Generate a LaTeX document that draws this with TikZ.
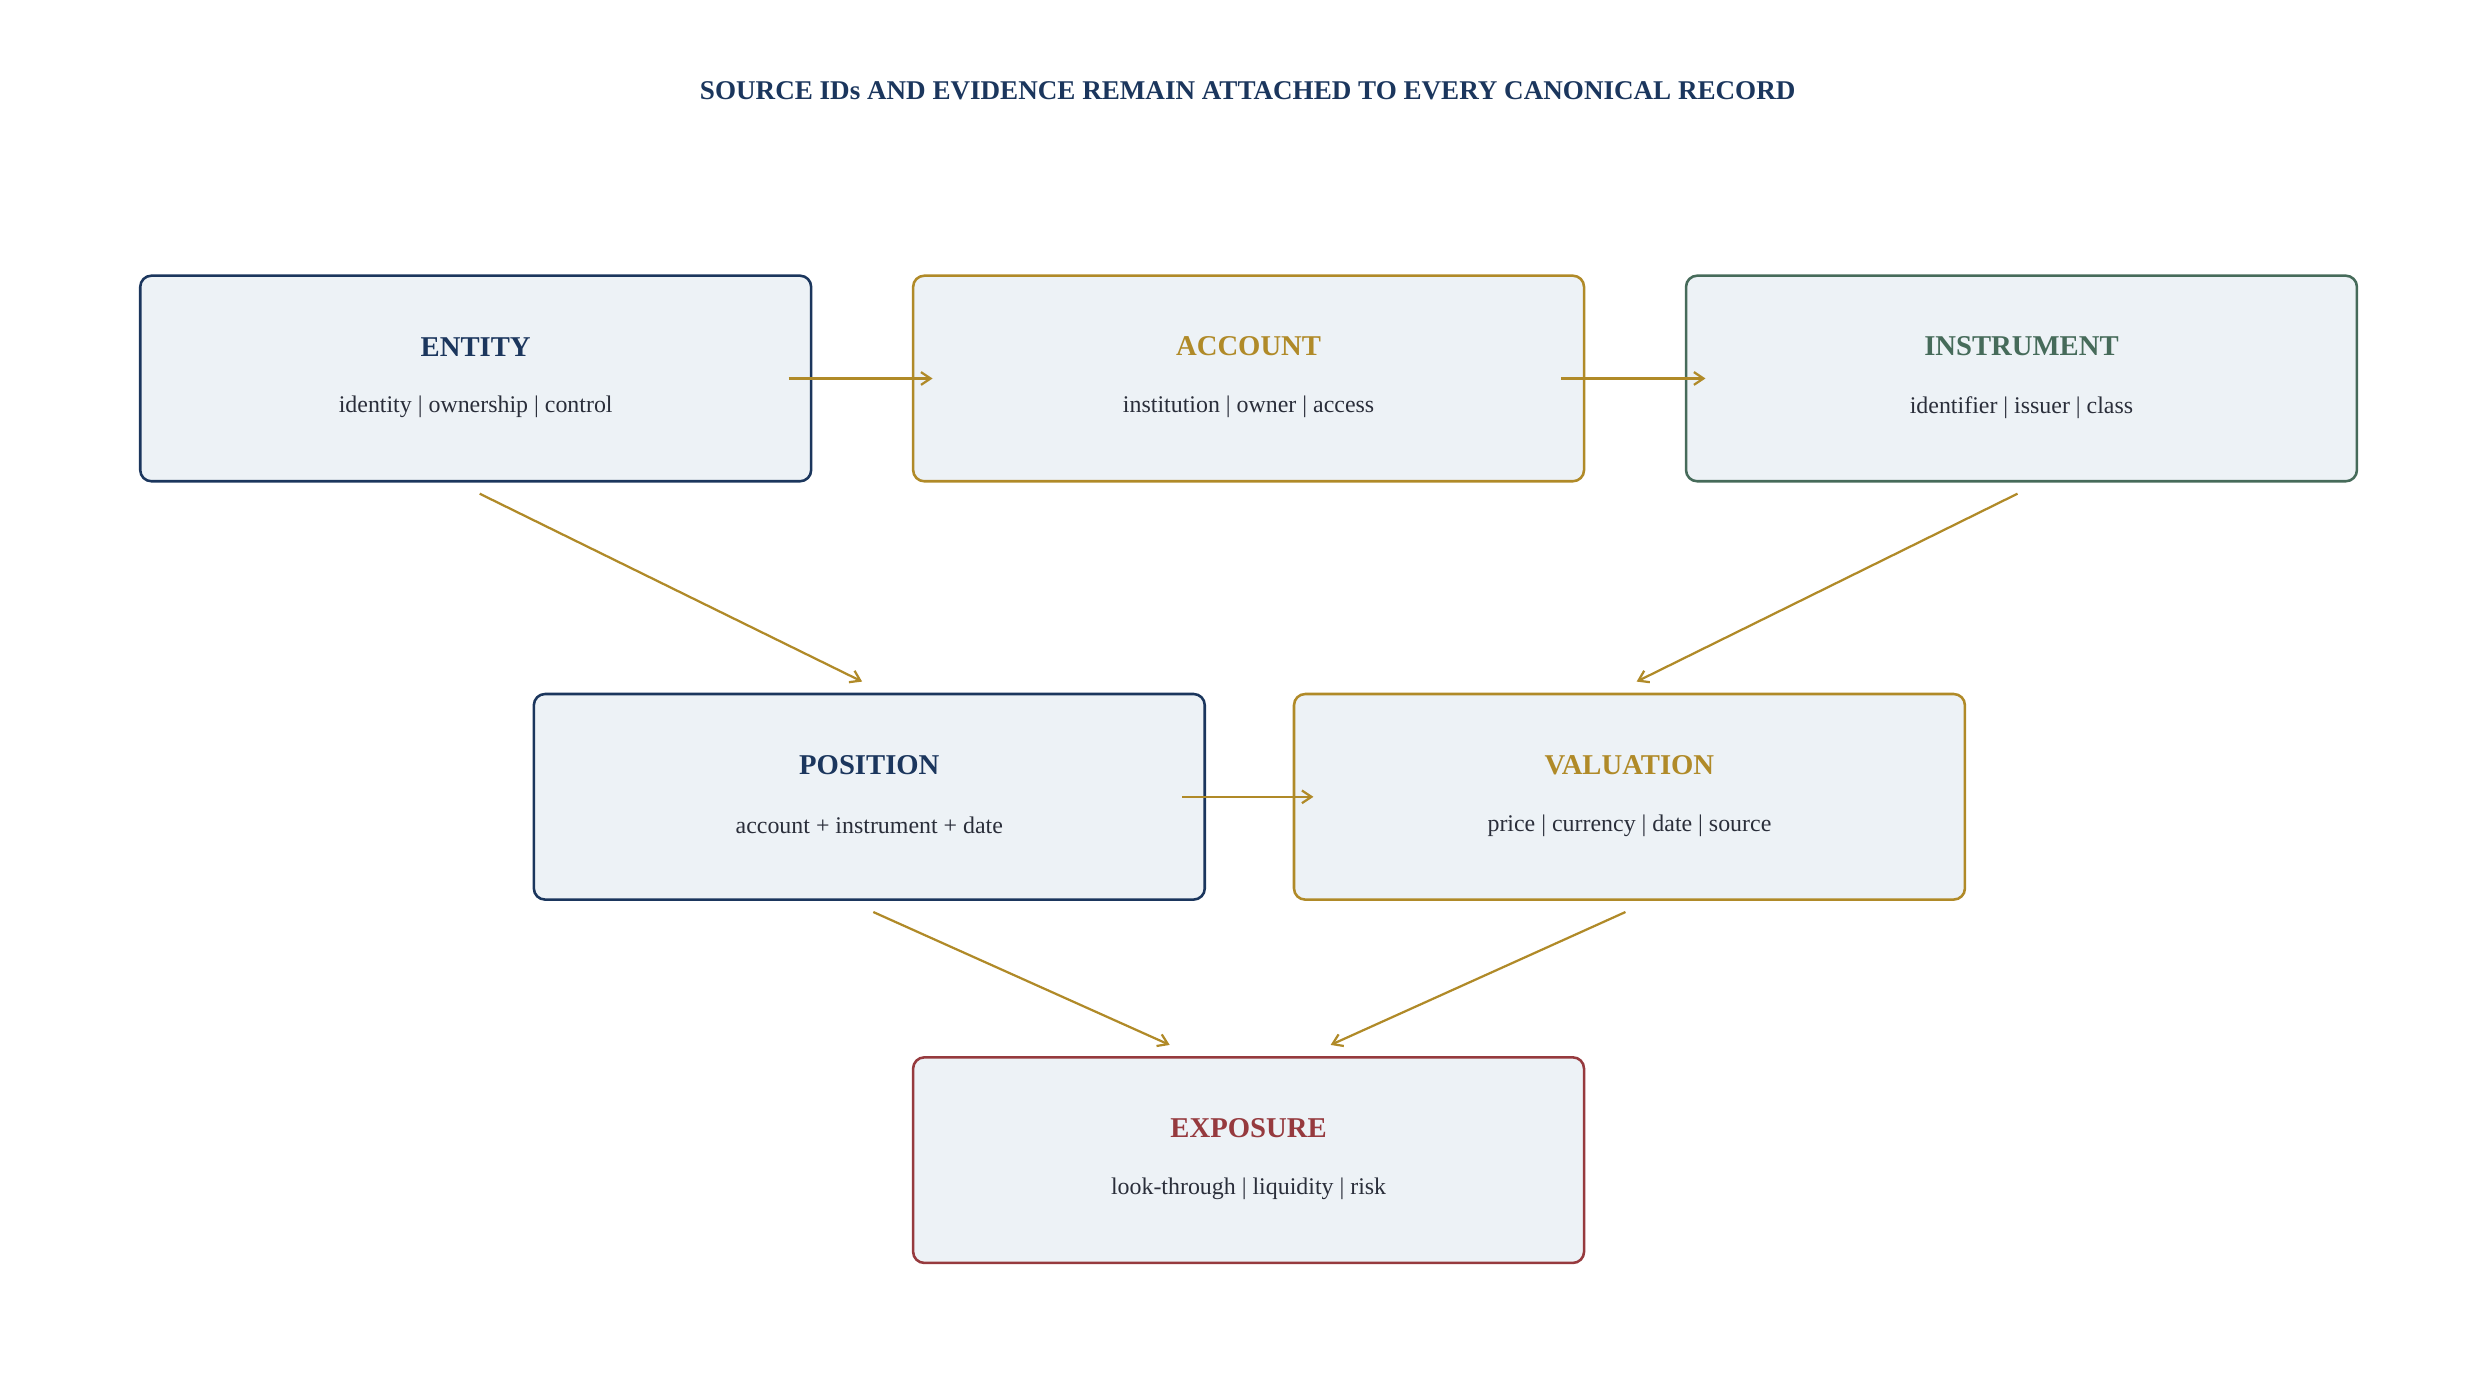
\documentclass[tikz,border=0pt]{standalone}
\usepackage{fontspec}
\setmainfont{Liberation Serif}
\usetikzlibrary{positioning,arrows.meta}
\definecolor{navy}{HTML}{1B365D}
\definecolor{gold}{HTML}{B08A28}
\definecolor{moss}{HTML}{466B5A}
\definecolor{wine}{HTML}{963A3E}
\definecolor{pale}{HTML}{EDF2F6}
\definecolor{ink}{HTML}{2A2E3A}
\tikzset{
  card/.style={draw=#1, fill=pale, line width=1.6pt, rounded corners=7pt,
    minimum width=421pt, minimum height=129pt, inner sep=0pt},
  link/.style={draw=gold, line width=1.4pt, -{Straight Barb[length=6pt,width=8pt]}},
  head/.style={font=\fontsize{18}{20}\selectfont\bfseries, text=#1},
  sub/.style={font=\fontsize{15}{17}\selectfont, text=ink}
}
\newcommand{\card}[5]{%
  \node[card=#2] (#1) at (#3) {};
  \node[head=#2] at ([yshift=20pt]#1.center) {#4};
  \node[sub] at ([yshift=-18pt]#1.center) {#5};
}
\begin{document}
\begin{tikzpicture}[x=1pt,y=-1pt]
  \useasboundingbox (0,0) rectangle (1560,870);
  \node[font=\fontsize{17}{19}\selectfont\bfseries, text=navy] (title) at (783,57)
    {SOURCE IDs AND EVIDENCE REMAIN ATTACHED TO EVERY CANONICAL RECORD};
  % top row
  \card{ent}{navy}{298.5,237.5}{ENTITY}{identity | ownership | control}
  \card{acc}{gold}{783.5,237.5}{ACCOUNT}{institution | owner | access}
  \card{ins}{moss}{1268.5,237.5}{INSTRUMENT}{identifier | issuer | class}
  % middle row
  \card{pos}{navy}{545.5,500}{POSITION}{account + instrument + date}
  \card{val}{gold}{1022.5,500}{VALUATION}{price | currency | date | source}
  % bottom
  \card{exp}{wine}{783.5,728}{EXPOSURE}{look-through | liquidity | risk}
  % links
  \draw[link] ([xshift=-15pt]ent.east) -- ([xshift=13pt]acc.west);
  \draw[link] ([xshift=-15pt]acc.east) -- ([xshift=13pt]ins.west);
  \draw[link] ([xshift=-15pt]pos.east) -- ([xshift=13pt]val.west);
  \draw[link] ([shift={(2.5,7)}]ent.south) -- ([shift={(-4.5,-7)}]pos.north);
  \draw[link] ([shift={(-2.5,7)}]ins.south) -- ([shift={(4.5,-7)}]val.north);
  \draw[link] ([shift={(2.5,7)}]pos.south) -- ([shift={(-49.5,-7)}]exp.north);
  \draw[link] ([shift={(-2.5,7)}]val.south) -- ([shift={(51.5,-7)}]exp.north);
\end{tikzpicture}
\end{document}
